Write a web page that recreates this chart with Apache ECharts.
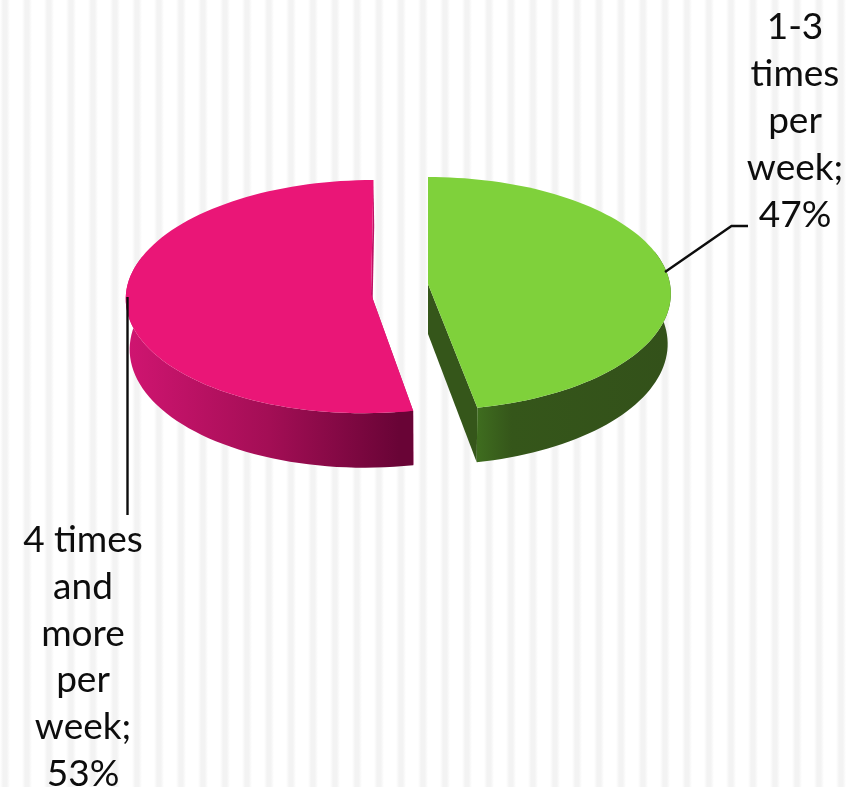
<!DOCTYPE html>
<html>
<head>
<meta charset="utf-8">
<title>Times per week</title>
<script src="https://cdn.jsdelivr.net/npm/echarts@6/dist/echarts.min.js"></script>
<style>
html, body { margin: 0; padding: 0; background: #fff; }
#main { width: 861px; height: 787px; }
</style>
</head>
<body>
<div id="main"></div>
<script>
var categories = ['1-3 times per week', '4 times and more per week'];
var values = [47, 53];
var labelLines = [
    ['1-3', 'times', 'per', 'week;'],
    ['4 times', 'and', 'more', 'per', 'week;']
];

// 透视饼图的参数
var axisX = 428;      // 透视中心线
var persp = 0.0825;   // 前大后小
var rx = 242, ry = 115.8;
var depth = 50;
var bottomScale = 0.987;

var sliceStyle = [
    {
        rimX: 428, rimY: 284, apexX: 428, apexY: 284,
        top: '#7fd13b', inner: '#35561a',
        wall: [[0, '#3f6d1f'], [0.18, '#35561a'], [1, '#33511a']],
        label: { x: 795, y: 121 },
        leader: [[665, 272], [731.5, 226], [748, 226]]
    },
    {
        rimX: 369, rimY: 287, apexX: 371, apexY: 294,
        top: '#ea1677', inner: '#c01266',
        wall: [[0, '#d01571'], [0.5, '#a30e55'], [0.95, '#690436'], [1, '#690436']],
        label: { x: 83, y: 657 },
        leader: [[127.5, 297], [127.5, 515]]
    }
];

function toScreen(s, t, low) {
    var k = 1 / (1 + persp * Math.cos(t));
    var sx = low ? bottomScale : 1;
    return [
        axisX + (s.rimX - axisX + rx * Math.sin(t)) * k * sx,
        s.rimY - ry * Math.cos(t) * k + (low ? depth * k : 0)
    ];
}

function arcPoints(s, a0, a1, low, frontOnly) {
    var pts = [];
    var n = 90;
    for (var i = 0; i <= n; i++) {
        var t = a0 + (a1 - a0) * i / n;
        // 外壁只画朝前的部分
        if (frontOnly && Math.cos(t) > 0.3) {
            continue;
        }
        pts.push(toScreen(s, t, low));
    }
    return pts;
}

var total = 0;
for (var i = 0; i < values.length; i++) {
    total += values[i];
}

function renderSlice(params, api) {
    var idx = params.dataIndex;
    var s = sliceStyle[idx];
    var before = 0;
    for (var i = 0; i < idx; i++) {
        before += values[i];
    }
    var a0 = before / total * Math.PI * 2;
    var a1 = (before + api.value(1)) / total * Math.PI * 2;

    var topArc = arcPoints(s, a0, a1, false);
    var lowArc = arcPoints(s, a0, a1, true);
    var wallTop = arcPoints(s, a0, a1, false, true);
    var wallLow = arcPoints(s, a0, a1, true, true);
    var apex = [s.apexX, s.apexY];
    var apexLow = [axisX + (s.apexX - axisX) * bottomScale, s.apexY + depth];

    // 切面：起始边和结束边
    function cutFace(i) {
        return {
            type: 'polygon',
            shape: { points: [apex, topArc[i], lowArc[i], apexLow] },
            style: { fill: s.inner }
        };
    }
    var wallFill = new echarts.graphic.LinearGradient(0, 0, 1, 0, s.wall.map(function (c) {
        return { offset: c[0], color: c[1] };
    }));

    var leader = s.leader;
    var text = labelLines[idx].concat([api.value(1) + '%']).join('\n');

    return {
        type: 'group',
        children: [
            cutFace(0),
            cutFace(topArc.length - 1),
            {
                type: 'polygon',
                shape: { points: wallTop.concat(wallLow.slice().reverse()) },
                style: { fill: wallFill }
            },
            {
                type: 'polygon',
                shape: { points: [apex].concat(topArc) },
                style: { fill: s.top }
            },
            {
                type: 'polyline',
                shape: { points: leader },
                style: { stroke: '#0d0d0d', lineWidth: 2.4, fill: null }
            },
            {
                type: 'text',
                style: {
                    x: s.label.x,
                    y: s.label.y,
                    text: text,
                    align: 'center',
                    verticalAlign: 'middle',
                    font: '37px Lato',
                    lineHeight: 46.8,
                    fill: '#0d0d0d'
                }
            }
        ]
    };
}

// 背景竖条纹
var stripes = [];
for (var sx = 5; sx < 861; sx += 22) {
    stripes.push({
        type: 'rect',
        silent: true,
        z: -10,
        shape: { x: sx - 5, y: 0, width: 10, height: 787 },
        style: {
            fill: new echarts.graphic.LinearGradient(0, 0, 1, 0, [
                { offset: 0, color: '#ffffff' },
                { offset: 0.32, color: '#f3f3f3' },
                { offset: 0.68, color: '#f3f3f3' },
                { offset: 1, color: '#ffffff' }
            ])
        }
    });
}

var myChart = echarts.init(document.getElementById('main'), null, { renderer: 'canvas' });
myChart.setOption({
    animation: false,
    backgroundColor: '#ffffff',
    graphic: stripes,
    xAxis: { show: false, type: 'category', data: categories },
    yAxis: { show: false, type: 'value' },
    series: [{
        type: 'custom',
        coordinateSystem: 'none',
        silent: true,
        data: categories.map(function (c, i) {
            return { name: c, value: [i, values[i]] };
        }),
        renderItem: renderSlice
    }]
});
</script>
</body>
</html>
